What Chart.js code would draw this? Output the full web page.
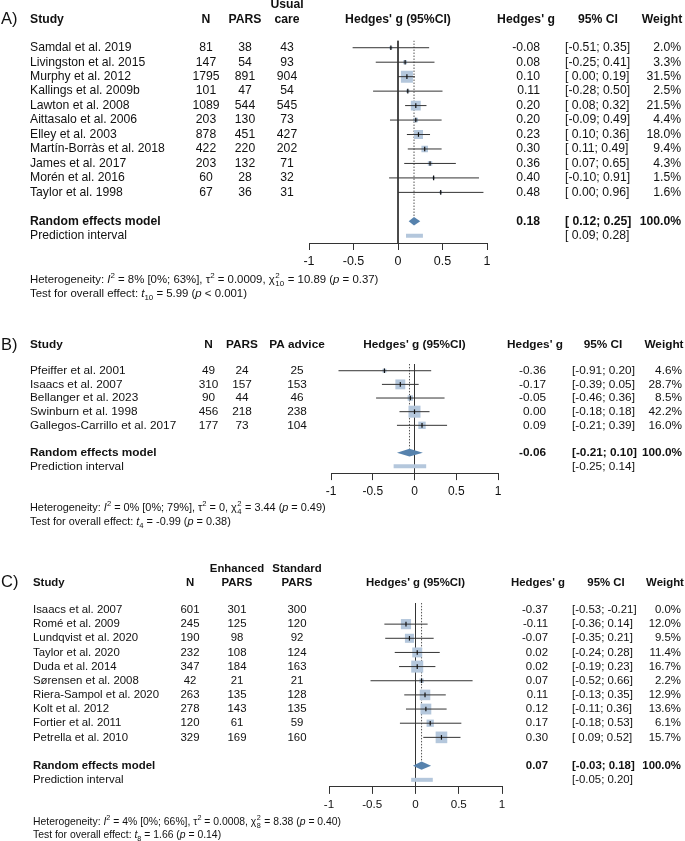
<!DOCTYPE html>
<html>
<head>
<meta charset="utf-8">
<script src="https://cdn.jsdelivr.net/npm/chart.js@4.4.1/dist/chart.umd.min.js"></script>
<style>
  body { margin: 0; background: #fff; }
  #page { position: relative; width: 685px; height: 841px; }
  canvas { position: absolute; left: 0; }
</style>
</head>
<body>
<div id="page">
  <canvas id="chartA" width="685" height="300" style="top:0px"></canvas>
  <canvas id="chartB" width="685" height="200" style="top:330px"></canvas>
  <canvas id="chartC" width="685" height="286" style="top:555px"></canvas>
</div>
<script>
const xTicks = [-1, -0.5, 0, 0.5, 1]

// A) PARS vs usual care
const studiesA = ['Samdal et al. 2019', 'Livingston et al. 2015', 'Murphy et al. 2012', 'Kallings et al. 2009b',
  'Lawton et al. 2008', 'Aittasalo et al. 2006', 'Elley et al. 2003', 'Martín-Borràs et al. 2018',
  'James et al. 2017', 'Morén et al. 2016', 'Taylor et al. 1998']
const totalA = [81, 147, 1795, 101, 1089, 203, 878, 422, 203, 60, 67]
const parsA = [38, 54, 891, 47, 544, 130, 451, 220, 132, 28, 36]
const usualA = [43, 93, 904, 54, 545, 73, 427, 202, 71, 32, 31]
const gA = [-0.08, 0.08, 0.10, 0.11, 0.20, 0.20, 0.23, 0.30, 0.36, 0.40, 0.48]
const lowerA = [-0.51, -0.25, 0.00, -0.28, 0.08, -0.09, 0.10, 0.11, 0.07, -0.10, 0.00]
const upperA = [0.35, 0.41, 0.19, 0.50, 0.32, 0.49, 0.36, 0.49, 0.65, 0.91, 0.96]
const weightA = [2.0, 3.3, 31.5, 2.5, 21.5, 4.4, 18.0, 9.4, 4.3, 1.5, 1.6]
const pooledA = [0.18, 0.12, 0.25]
const predA = [0.09, 0.28]
const headA = ['N', 'PARS', 'Usual|care']
const hetA = [['Heterogeneity: ', 'n'], ['I', 'i'], ['2', 'sup'], [' = 8% [0%; 63%], ', 'n'], ['τ', 'n'], ['2', 'sup'],
  [' = 0.0009, ', 'n'], ['χ', 'n'], ['2|10', 'supsub'], [' = 10.89 (', 'n'], ['p', 'i'], [' = 0.37)', 'n']]
const testA = [['Test for overall effect: ', 'n'], ['t', 'i'], ['10', 'sub'], [' = 5.99 (', 'n'], ['p', 'i'], [' < 0.001)', 'n']]

// B) PARS vs PA advice
const studiesB = ['Pfeiffer et al. 2001', 'Isaacs et al. 2007', 'Bellanger et al. 2023', 'Swinburn et al. 1998',
  'Gallegos-Carrillo et al. 2017']
const totalB = [49, 310, 90, 456, 177]
const parsB = [24, 157, 44, 218, 73]
const adviceB = [25, 153, 46, 238, 104]
const gB = [-0.36, -0.17, -0.05, 0.00, 0.09]
const lowerB = [-0.91, -0.39, -0.46, -0.18, -0.21]
const upperB = [0.20, 0.05, 0.36, 0.18, 0.39]
const weightB = [4.6, 28.7, 8.5, 42.2, 16.0]
const pooledB = [-0.06, -0.21, 0.10]
const predB = [-0.25, 0.14]
const headB = ['N', 'PARS', 'PA advice']
const hetB = [['Heterogeneity: ', 'n'], ['I', 'i'], ['2', 'sup'], [' = 0% [0%; 79%], ', 'n'], ['τ', 'n'], ['2', 'sup'],
  [' = 0, ', 'n'], ['χ', 'n'], ['2|4', 'supsub'], [' = 3.44 (', 'n'], ['p', 'i'], [' = 0.49)', 'n']]
const testB = [['Test for overall effect: ', 'n'], ['t', 'i'], ['4', 'sub'], [' = -0.99 (', 'n'], ['p', 'i'], [' = 0.38)', 'n']]

// C) enhanced vs standard PARS
const studiesC = ['Isaacs et al. 2007', 'Romé et al. 2009', 'Lundqvist et al. 2020', 'Taylor et al. 2020',
  'Duda et al. 2014', 'Sørensen et al. 2008', 'Riera-Sampol et al. 2020', 'Kolt et al. 2012',
  'Fortier et al. 2011', 'Petrella et al. 2010']
const totalC = [601, 245, 190, 232, 347, 42, 263, 278, 120, 329]
const enhancedC = [301, 125, 98, 108, 184, 21, 135, 143, 61, 169]
const standardC = [300, 120, 92, 124, 163, 21, 128, 135, 59, 160]
const gC = [-0.37, -0.11, -0.07, 0.02, 0.02, 0.07, 0.11, 0.12, 0.17, 0.30]
const lowerC = [-0.53, -0.36, -0.35, -0.24, -0.19, -0.52, -0.13, -0.11, -0.18, 0.09]
const upperC = [-0.21, 0.14, 0.21, 0.28, 0.23, 0.66, 0.35, 0.36, 0.53, 0.52]
const weightC = [0.0, 12.0, 9.5, 11.4, 16.7, 2.2, 12.9, 13.6, 6.1, 15.7]
const pooledC = [0.07, -0.03, 0.18]
const predC = [-0.05, 0.20]
const headC = ['N', 'Enhanced|PARS', 'Standard|PARS']
const hetC = [['Heterogeneity: ', 'n'], ['I', 'i'], ['2', 'sup'], [' = 4% [0%; 66%], ', 'n'], ['τ', 'n'], ['2', 'sup'],
  [' = 0.0008, ', 'n'], ['χ', 'n'], ['2|8', 'supsub'], [' = 8.38 (', 'n'], ['p', 'i'], [' = 0.40)', 'n']]
const testC = [['Test for overall effect: ', 'n'], ['t', 'i'], ['8', 'sub'], [' = 1.66 (', 'n'], ['p', 'i'], [' = 0.14)', 'n']]

const FONT = '"Liberation Sans", Arial, Helvetica, sans-serif'
const SQUARE = '#b4c7dc'
const DIAMOND = '#5682ad'
const INK = '#111'

function ciText(lo, hi) {
  return '[' + (lo < 0 ? '' : ' ') + lo.toFixed(2) + '; ' + hi.toFixed(2) + ']'
}

function drawRich(ctx, runs, x, y, size) {
  ctx.textAlign = 'left'
  ctx.textBaseline = 'alphabetic'
  const small = size * 0.7
  for (const [t, s] of runs) {
    if (s === 'supsub') {
      const [a, b] = t.split('|')
      ctx.font = small + 'px ' + FONT
      ctx.fillText(a, x + 0.5, y - size * 0.42)
      ctx.fillText(b, x + 0.5, y + size * 0.3)
      x += Math.max(ctx.measureText(a).width, ctx.measureText(b).width) + 1
    } else if (s === 'sup' || s === 'sub') {
      ctx.font = small + 'px ' + FONT
      ctx.fillText(t, x, y + (s === 'sup' ? -size * 0.42 : size * 0.3))
      x += ctx.measureText(t).width
    } else {
      ctx.font = (s === 'i' ? 'italic ' : '') + size + 'px ' + FONT
      ctx.fillText(t, x, y)
      x += ctx.measureText(t).width
    }
  }
}

function forest(id, d, geo) {
  const n = d.studies.length
  const reRow = n + 1
  const piRow = n + 2
  const wMax = Math.max(...d.weight)
  const shown = d.studies.map((s, i) => i).filter(i => d.weight[i] > 0)

  const datasets = []
  // point estimate ticks
  datasets.push({
    data: shown.map(i => ({x: d.g[i], y: i})),
    pointStyle: 'line', pointRotation: 90, pointRadius: 2.3, pointHoverRadius: 2.3,
    pointBorderColor: INK, pointBorderWidth: 1.2, order: 0
  })
  // confidence intervals
  shown.forEach(i => datasets.push({
    data: [{x: d.lower[i], y: i}, {x: d.upper[i], y: i}],
    showLine: true, borderColor: '#333', borderWidth: 1, pointRadius: 0, order: 1
  }))
  // weight squares
  datasets.push({
    data: shown.map(i => ({x: d.g[i], y: i})),
    pointStyle: 'rect', pointRadius: shown.map(i => Math.max(2.5, 12 * Math.sqrt(d.weight[i] / wMax)) / Math.SQRT2),
    pointBackgroundColor: SQUARE, pointBorderWidth: 0, order: 2
  })
  // prediction interval
  datasets.push({
    data: [{x: d.pred[0], y: piRow}, {x: d.pred[1], y: piRow}],
    showLine: true, borderColor: SQUARE, borderWidth: 4, borderCapStyle: 'butt', pointRadius: 0, order: 3
  })
  // line of no effect
  datasets.push({
    data: [{x: 0, y: -0.5}, {x: 0, y: piRow + 0.5}],
    showLine: true, borderColor: '#333', borderWidth: 1, pointRadius: 0, order: 4
  })
  // pooled estimate
  datasets.push({
    data: [{x: d.pooled[0], y: -0.5}, {x: d.pooled[0], y: reRow - 0.3}],
    showLine: true, borderColor: '#555', borderWidth: 1, borderDash: [1.5, 1.5], pointRadius: 0, order: 4
  })

  const diamond = {
    id: 'diamond',
    afterDatasetsDraw(chart) {
      const {ctx, scales: {x, y}} = chart
      const yc = y.getPixelForValue(reRow)
      const h = Math.abs(y.getPixelForValue(0.29) - y.getPixelForValue(0))
      ctx.save()
      ctx.fillStyle = DIAMOND
      ctx.beginPath()
      ctx.moveTo(x.getPixelForValue(d.pooled[1]), yc)
      ctx.lineTo(x.getPixelForValue(d.pooled[0]), yc - h)
      ctx.lineTo(x.getPixelForValue(d.pooled[2]), yc)
      ctx.lineTo(x.getPixelForValue(d.pooled[0]), yc + h)
      ctx.closePath()
      ctx.fill()
      ctx.restore()
    }
  }

  const table = {
    id: 'table',
    afterDraw(chart) {
      const {ctx, chartArea, scales: {y}} = chart
      const fs = geo.fs
      const text = (t, x, yy, align, bold) => {
        ctx.font = (bold ? 'bold ' : '') + fs + 'px ' + FONT
        ctx.textAlign = align
        ctx.fillText(t, x, yy)
      }
      ctx.save()
      ctx.fillStyle = INK
      ctx.textBaseline = 'middle'

      ctx.font = '16.5px ' + FONT
      ctx.textAlign = 'left'
      ctx.fillText(geo.label, 1, geo.hdrY)

      text('Study', geo.studyX, geo.hdrY, 'left', true)
      d.head.forEach((h, c) => {
        const parts = h.split('|')
        parts.forEach((p, k) => text(p, geo.colX[c], geo.hdrY - (parts.length - 1 - k) * geo.hdrGap, 'center', true))
      })
      text("Hedges' g (95%CI)", (chartArea.left + chartArea.right) / 2, geo.hdrY, 'center', true)
      text("Hedges' g", geo.hEstX, geo.hdrY, 'center', true)
      text('95% CI', geo.hCiX, geo.hdrY, 'center', true)
      text('Weight', geo.hWX, geo.hdrY, 'center', true)

      d.studies.forEach((s, i) => {
        const yy = y.getPixelForValue(i)
        text(s, geo.studyX, yy, 'left')
        d.cols.forEach((col, c) => text(String(col[i]), geo.colX[c], yy, 'center'))
        text(d.g[i].toFixed(2), geo.estX, yy, 'right')
        text(ciText(d.lower[i], d.upper[i]), geo.ciX, yy, 'left')
        text(d.weight[i].toFixed(1) + '%', geo.wX, yy, 'right')
      })
      const yRe = y.getPixelForValue(reRow)
      text('Random effects model', geo.studyX, yRe, 'left', true)
      text(d.pooled[0].toFixed(2), geo.estX, yRe, 'right', true)
      text(ciText(d.pooled[1], d.pooled[2]), geo.ciX, yRe, 'left', true)
      text('100.0%', geo.wX, yRe, 'right', true)
      const yPi = y.getPixelForValue(piRow)
      text('Prediction interval', geo.studyX, yPi, 'left')
      text(ciText(d.pred[0], d.pred[1]), geo.ciX, yPi, 'left')

      drawRich(ctx, d.het, geo.hetX, geo.hetY + geo.hetFs * 0.35, geo.hetFs)
      drawRich(ctx, d.test, geo.hetX, geo.testY + geo.hetFs * 0.35, geo.hetFs)
      ctx.restore()
    }
  }

  return new Chart(document.getElementById(id), {
    type: 'scatter',
    data: {datasets},
    plugins: [diamond, table],
    options: {
      responsive: false,
      animation: false,
      devicePixelRatio: 1,
      events: [],
      layout: {padding: {top: geo.top, left: geo.left, right: 685 - geo.right, bottom: geo.H - geo.bottom - 30}},
      plugins: {legend: {display: false}, tooltip: {enabled: false}},
      scales: {
        x: {
          type: 'linear', min: -1, max: 1,
          afterBuildTicks: s => { s.ticks = xTicks.map(v => ({value: v})) },
          afterFit: s => { s.height = 30 },
          grid: {drawOnChartArea: false, drawTicks: true, tickLength: 7, color: '#333', lineWidth: 1},
          border: {display: true, color: '#333', width: 1},
          ticks: {color: INK, font: {family: FONT, size: geo.tickFs}, padding: 4, maxRotation: 0, autoSkip: false,
            callback: v => String(v)}
        },
        y: {type: 'linear', display: false, reverse: true, min: -0.5, max: piRow + 0.5}
      }
    }
  })
}

forest('chartA', {
  studies: studiesA, cols: [totalA, parsA, usualA], g: gA, lower: lowerA, upper: upperA, weight: weightA,
  pooled: pooledA, pred: predA, head: headA, het: hetA, test: testA
}, {H: 300, top: 40.5, bottom: 243, left: 309, right: 487, fs: 12.2, tickFs: 12.5, label: 'A)', hdrY: 19.3, hdrGap: 14.6,
  studyX: 30, colX: [206, 245, 287], estX: 540, ciX: 565, wX: 681, hEstX: 526, hCiX: 598, hWX: 662,
  hetX: 30, hetY: 279, testY: 293, hetFs: 11.4})

forest('chartB', {
  studies: studiesB, cols: [totalB, parsB, adviceB], g: gB, lower: lowerB, upper: upperB, weight: weightB,
  pooled: pooledB, pred: predB, head: headB, het: hetB, test: testB
}, {H: 200, top: 33.9, bottom: 143.1, left: 331, right: 498, fs: 11.8, tickFs: 12, label: 'B)', hdrY: 15, hdrGap: 0,
  studyX: 30, colX: [208.5, 242, 297], estX: 546, ciX: 572, wX: 682, hEstX: 535, hCiX: 603, hWX: 664,
  hetX: 30, hetY: 177, testY: 191, hetFs: 10.9})

forest('chartC', {
  studies: studiesC, cols: [totalC, enhancedC, standardC], g: gC, lower: lowerC, upper: upperC, weight: weightC,
  pooled: pooledC, pred: predC, head: headC, het: hetC, test: testC
}, {H: 286, top: 47.9, bottom: 231.9, left: 329, right: 502, fs: 11.4, tickFs: 11.6, label: 'C)', hdrY: 27.5, hdrGap: 13.2,
  studyX: 33, colX: [190, 237, 297], estX: 548, ciX: 572, wX: 681, hEstX: 538, hCiX: 606, hWX: 665,
  hetX: 33, hetY: 266, testY: 279.5, hetFs: 10.4})
</script>
</body>
</html>
